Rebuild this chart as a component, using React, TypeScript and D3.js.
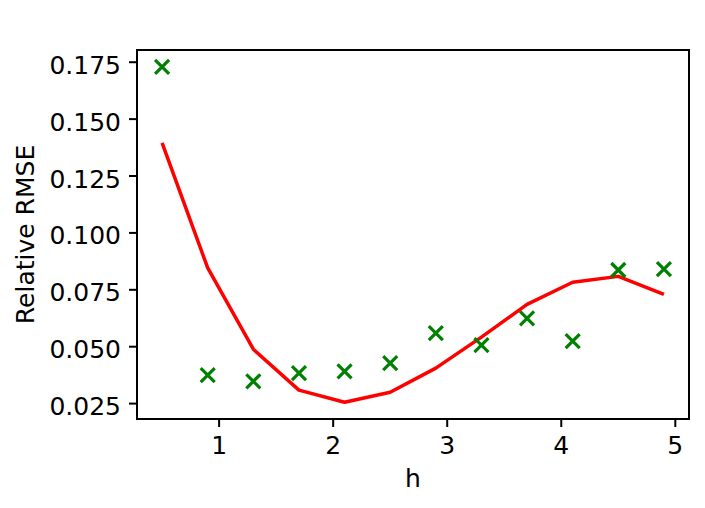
import React, { useEffect, useRef } from "react";
import * as d3 from "d3";

const hValues = [0.5, 0.9, 1.3, 1.7, 2.1, 2.5, 2.9, 3.3, 3.7, 4.1, 4.5, 4.9];
const markerRmse = [0.173, 0.0375, 0.0348, 0.0384, 0.0392, 0.0428, 0.056, 0.0507, 0.0624, 0.0524, 0.0837, 0.0841];
const lineRmse = [0.1396, 0.0846, 0.0489, 0.0309, 0.0256, 0.03, 0.0406, 0.0542, 0.0686, 0.0783, 0.0809, 0.073];
const xTicks = [1, 2, 3, 4, 5];
const yTicks = [0.025, 0.05, 0.075, 0.1, 0.125, 0.15, 0.175];

const W = 705;
const H = 508;
const FONT = "DejaVu Sans, sans-serif";

// matplotlib style 5% padding around the data range
function padded(vals: number[]): [number, number] {
  const [lo, hi] = d3.extent(vals) as [number, number];
  const m = (hi - lo) * 0.05;
  return [lo - m, hi + m];
}

export default function App() {
  const svgRef = useRef<SVGSVGElement>(null);

  useEffect(() => {
    document.body.style.margin = "0";
    if (!svgRef.current) return;
    const svg = d3.select(svgRef.current);
    svg.selectAll("*").remove();

    const margin = { top: 50, right: 16, bottom: 89, left: 137 };
    const x = d3.scaleLinear()
      .domain(padded(hValues))
      .range([margin.left, W - margin.right]);
    const y = d3.scaleLinear()
      .domain(padded([...markerRmse, ...lineRmse]))
      .range([H - margin.bottom, margin.top]);

    const bottom = H - margin.bottom;

    // red line
    const line = d3.line<number>()
      .x((_, i) => x(hValues[i]))
      .y((d) => y(d));
    svg.append("path")
      .datum(lineRmse)
      .attr("d", line)
      .attr("fill", "none")
      .attr("stroke", "#ff0000")
      .attr("stroke-width", 3.5)
      .attr("stroke-linejoin", "round")
      .attr("stroke-linecap", "butt");

    // green x markers
    const s = 7;
    const marks = svg.append("g").selectAll("g")
      .data(markerRmse)
      .enter()
      .append("g")
      .attr("transform", (d, i) => `translate(${x(hValues[i])},${y(d)})`);
    marks.append("path")
      .attr("d", `M${-s},${-s}L${s},${s}M${-s},${s}L${s},${-s}`)
      .attr("stroke", "#008000")
      .attr("stroke-width", 3.2)
      .attr("fill", "none");

    // frame
    svg.append("rect")
      .attr("x", margin.left)
      .attr("y", margin.top)
      .attr("width", W - margin.right - margin.left)
      .attr("height", bottom - margin.top)
      .attr("fill", "none")
      .attr("stroke", "#000")
      .attr("stroke-width", 2);

    // x ticks
    const xg = svg.append("g");
    xTicks.forEach((t) => {
      xg.append("line")
        .attr("x1", x(t)).attr("x2", x(t))
        .attr("y1", bottom).attr("y2", bottom + 8)
        .attr("stroke", "#000").attr("stroke-width", 2);
      xg.append("text")
        .attr("x", x(t))
        .attr("y", bottom + 35)
        .attr("text-anchor", "middle")
        .attr("font-family", FONT)
        .attr("font-size", 25)
        .attr("fill", "#000")
        .text(String(t));
    });

    // y ticks
    const yg = svg.append("g");
    yTicks.forEach((t) => {
      yg.append("line")
        .attr("x1", margin.left - 8).attr("x2", margin.left)
        .attr("y1", y(t)).attr("y2", y(t))
        .attr("stroke", "#000").attr("stroke-width", 2);
      yg.append("text")
        .attr("x", margin.left - 16)
        .attr("y", y(t) + 11.5)
        .attr("text-anchor", "end")
        .attr("font-family", FONT)
        .attr("font-size", 25)
        .attr("fill", "#000")
        .text(t.toFixed(3));
    });

    // axis labels
    svg.append("text")
      .attr("x", (margin.left + W - margin.right) / 2)
      .attr("y", 487)
      .attr("text-anchor", "middle")
      .attr("font-family", FONT)
      .attr("font-size", 25)
      .attr("fill", "#000")
      .text("h");

    svg.append("text")
      .attr("transform", `translate(33.5,${(margin.top + bottom) / 2}) rotate(-90)`)
      .attr("text-anchor", "middle")
      .attr("font-family", FONT)
      .attr("font-size", 25)
      .attr("fill", "#000")
      .text("Relative RMSE");
  }, []);

  return (
    <svg ref={svgRef} width={W} height={H} style={{ display: "block", background: "#fff" }} />
  );
}
